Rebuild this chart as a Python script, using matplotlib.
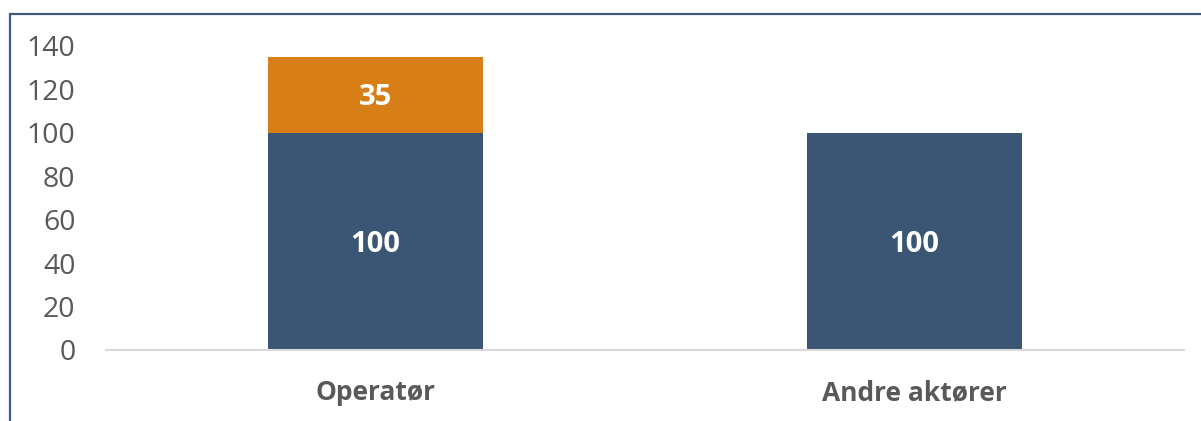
import matplotlib.pyplot as plt
from matplotlib.patches import Rectangle

categories = ["Operatør", "Andre aktører"]
base_values = [100, 100]
extra_values = [35, 0]
y_ticks = [0, 20, 40, 60, 80, 100, 120, 140]

BLUE = "#3b5675"
ORANGE = "#d77e17"
GREY = "#595959"

plt.rcParams["font.family"] = ["Open Sans", "DejaVu Sans"]

fig = plt.figure(figsize=(12.01, 4.21), dpi=100)
ax = fig.add_axes([106 / 1201, 1 - 350 / 421, 1078 / 1201, 304 / 421])

x = list(range(len(categories)))
ax.bar(x, base_values, width=0.4, color=BLUE, zorder=2)
ax.bar(x, extra_values, bottom=base_values, width=0.4, color=ORANGE, zorder=2)

for xi, b, e in zip(x, base_values, extra_values):
    ax.annotate(f"{b}", (xi, b / 2), xytext=(0, -2), textcoords="offset points",
                ha="center", va="center", color="white", fontsize=21, fontweight="bold")
    if e:
        ax.annotate(f"{e}", (xi, b + e / 2), xytext=(0, -2), textcoords="offset points",
                    ha="center", va="center", color="white", fontsize=21, fontweight="bold")

ax.set_xlim(-0.5, len(categories) - 0.5)
ax.set_ylim(0, 140)
ax.set_yticks(y_ticks)
ax.set_xticks(x, categories)
ax.tick_params(axis="y", length=0, pad=22, labelsize=20.5, labelcolor=GREY)
ax.tick_params(axis="x", length=0, pad=21, labelsize=19, labelcolor=GREY)
for lbl in ax.get_xticklabels():
    lbl.set_fontweight("bold")

for side in ("top", "right", "left"):
    ax.spines[side].set_visible(False)
ax.spines["bottom"].set_color("#d9d9d9")
ax.spines["bottom"].set_linewidth(1.5)

# outer frame, cropped at right and bottom like the original
fig.patches.append(Rectangle((10 / 1201, -0.1), 1.2, 1 - 14 / 421 + 0.1,
                             transform=fig.transFigure, fill=False,
                             edgecolor="#3f5a7c", linewidth=1.6))

fig.savefig("out.png", dpi=100)
